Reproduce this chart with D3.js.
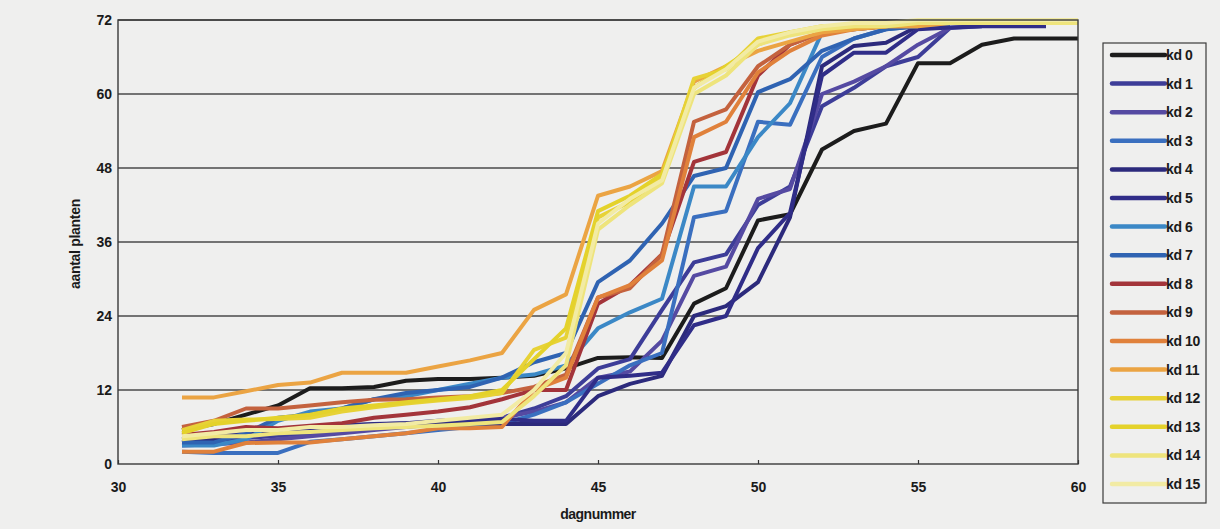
<!DOCTYPE html>
<html>
<head>
<meta charset="utf-8">
<script src="https://cdn.jsdelivr.net/npm/d3@7"></script>
<style>
  html, body { margin: 0; padding: 0; background: #efefee; }
  svg text { font-family: "Liberation Sans", Arial, sans-serif; font-weight: bold; fill: #1a1a1a; }
</style>
</head>
<body>
<div id="chart"></div>
<script>
// days 32..60, one value per day, null = no measurement
const firstDay = 32;
const xTicks = [30, 35, 40, 45, 50, 55, 60];
const yTicks = [0, 12, 24, 36, 48, 60, 72];
const seriesNames = ['kd 0', 'kd 1', 'kd 2', 'kd 3', 'kd 4', 'kd 5', 'kd 6', 'kd 7',
  'kd 8', 'kd 9', 'kd 10', 'kd 11', 'kd 12', 'kd 13', 'kd 14', 'kd 15'];
const seriesColors = ['#1c1c1c', '#3d3d98', '#554aa2', '#3a6fbf', '#2c2a7c', '#302d88', '#3b88c6', '#2f63b2',
  '#a3343a', '#c4623e', '#e0813b', '#eba443', '#e7d236', '#e4d22b', '#eee47c', '#f2eba4'];

const kd0 = [5.5, 6.5, 8, 9.5, 12.3, 12.3, 12.5, 13.5, 13.8, 13.8, 14, 14.3, 15.5, 17.2, 17.3, 17.2, 26, 28.5, 39.5, 40.5, 51, 54, 55.2, 65, 65, 68, 69, 69, 69];
const kd1 = [3.5, 3.8, 4.2, 4.6, 5, 5.5, 6, 6.3, 6.6, 7, 7.5, 9, 11, 15.5, 17, 25, 32.7, 34, 42, 45, 58, 61, 64.5, 66, 70.7, 71];
const kd2 = [3, 3.2, 3.5, 4, 4.5, 5, 5.5, 6, 6.5, 7, 7.5, 8.5, 10, 14, 15, 20, 30.5, 32, 43, 44.6, 60, 62, 64.5, 68, 70.7];
const kd3 = [2, 1.8, 1.8, 1.8, 3.6, 4, 4.5, 5, 5.5, 6, 6.5, 8, 10, 13, 16, 18, 40, 41, 55.5, 55, 66, 69, 70.5, 71, 71];
const kd4 = [3.5, 4, 5, 5.5, 6, 6.3, 6.5, 6.6, 6.6, 6.6, 6.5, 6.5, 6.5, 11, 13, 14.3, 24, 25.6, 29.5, 40, 64.5, 67.8, 68.3, 71];
const kd5 = [4, 4.5, 5, 5.5, 5.8, 6.2, 6.4, 6.6, 7, 7.2, 7.3, 7, 7, 14, 14.3, 14.8, 22.5, 24, 35, 40.7, 63, 66.7, 66.7, 70.5, 70.8, 71, 71, 71];
const kd6 = [3, 3, 4, 7, 8.5, 9, 10.5, 11, 12, 13, 14, 14.5, 16, 22, 24.6, 26.8, 45, 45, 53, 58.5, 70, 70.5, 71, 71];
const kd7 = [3.5, 3.5, 5, 7.5, 8, 9, 10.5, 11.5, 12, 12.5, 14, 16.5, 18, 29.5, 33, 39, 46.7, 48, 60.3, 62.4, 67, 69, 70.5, 71];
const kd8 = [4.7, 5.2, 6, 5.8, 6.2, 6.6, 7.5, 8, 8.5, 9.2, 10.5, 12, 12, 26, 29, 34, 49, 50.6, 63, 68, 70, 70.5, 71];
const kd9 = [6, 7, 9, 9, 9.5, 10, 10.4, 10.5, 10.8, 11, 11.5, 12.5, 14.5, 27, 28.5, 34, 55.5, 57.5, 64.5, 68, 70, 71, 71];
const kd10 = [2, 2, 3.4, 3.5, 3.5, 4, 4.5, 5, 5.8, 5.8, 6, 12, 14, 27, 29, 33, 53, 55.5, 63.5, 67, 69.5, 70.5, 71, 71];
const kd11 = [10.8, 10.8, 11.8, 12.8, 13.2, 14.8, 14.8, 14.8, 15.8, 16.8, 18, 25, 27.5, 43.5, 45, 47.5, 62, 64.5, 67, 68.5, 70, 70.5, 71, 71, 71.5, 71.5];
const kd12 = [5.5, 7, 7.2, 7.3, 7.5, 8.5, 9.2, 9.8, 10.3, 10.7, 11.5, 18.5, 20.5, 40, 42.5, 46.5, 62.5, 64, 69, 70, 71, 71, 71.5, 71.5, 71.5, 71.5, 71.5];
const kd13 = [5, 6.5, 7, 7.5, 8, 9, 9.5, 10, 10.5, 11, 12, 17, 22, 41, 43.5, 47, 61, 64.5, 68, 70, 70.5, 71, 71, 71.5, 71.5, 71.5];
const kd14 = [4, 4.5, 4.5, 5, 5.2, 5.5, 5.8, 6, 6.2, 6.5, 6.8, 11, 16, 38, 42, 45.5, 60, 63, 68, 69.5, 70.5, 71, 71, 71.5, 71.5, 71.5, 71.5, 71.5, 71.5];
const kd15 = [4.5, 5, 5.5, 5.5, 6, 6, 6.3, 6.5, 7, 7.5, 8, 12, 18, 39, 43, 46, 61, 64, 68.5, 70, 71, 71.5, 71.5, 72, 72, 72, 72, 72, 72];

const seriesValues = [kd0, kd1, kd2, kd3, kd4, kd5, kd6, kd7, kd8, kd9, kd10, kd11, kd12, kd13, kd14, kd15];

const width = 1220, height = 529;
const margin = { left: 118, right: 142, top: 20, bottom: 65 };

const svg = d3.select('#chart').append('svg')
  .attr('width', width)
  .attr('height', height);

const x = d3.scaleLinear().domain([30, 60]).range([margin.left, width - margin.right]);
const y = d3.scaleLinear().domain([0, 72]).range([height - margin.bottom, margin.top]);

// horizontal grid
svg.append('g')
  .selectAll('line')
  .data(yTicks.filter(d => d > 0))
  .join('line')
    .attr('x1', x(30)).attr('x2', x(60))
    .attr('y1', d => y(d)).attr('y2', d => y(d))
    .attr('stroke', '#4a4a4a')
    .attr('stroke-width', 1.3);

// y axis labels
svg.append('g')
  .selectAll('text')
  .data(yTicks)
  .join('text')
    .attr('x', x(30) - 6)
    .attr('y', d => y(d))
    .attr('dy', '0.35em')
    .attr('text-anchor', 'end')
    .attr('font-size', 14)
    .text(d => d);

// x axis + ticks
const xAxis = svg.append('g')
  .attr('transform', `translate(0,${y(0)})`)
  .call(d3.axisBottom(x).tickValues(xTicks).tickSize(-4).tickPadding(18).tickFormat(d3.format('d')));
xAxis.select('.domain').remove();
xAxis.selectAll('.tick line').attr('stroke', '#333').attr('stroke-width', 1.2);
xAxis.selectAll('.tick text')
  .attr('font-size', 14)
  .attr('font-family', '"Liberation Sans", Arial, sans-serif')
  .attr('font-weight', 'bold')
  .attr('fill', '#1a1a1a');

const line = d3.line()
  .defined(d => d != null)
  .x((d, i) => x(firstDay + i))
  .y(d => y(d));

svg.append('g')
  .selectAll('path')
  .data(seriesValues)
  .join('path')
    .attr('fill', 'none')
    .attr('stroke', (d, i) => seriesColors[i])
    .attr('stroke-width', 4)
    .attr('stroke-linejoin', 'round')
    .attr('d', line);

// plot frame
svg.append('rect')
  .attr('x', x(30))
  .attr('y', y(72))
  .attr('width', x(60) - x(30))
  .attr('height', y(0) - y(72))
  .attr('fill', 'none')
  .attr('stroke', '#3a3a3a')
  .attr('stroke-width', 1.4);

svg.append('text')
  .attr('x', (x(30) + x(60)) / 2)
  .attr('y', 519)
  .attr('text-anchor', 'middle')
  .attr('font-size', 14)
  .attr('letter-spacing', -0.5)
  .text('dagnummer');

svg.append('text')
  .attr('transform', `translate(80,${(y(0) + y(72)) / 2 + 2}) rotate(-90)`)
  .attr('text-anchor', 'middle')
  .attr('font-size', 14)
  .attr('letter-spacing', -0.3)
  .text('aantal planten');

// legend
const legend = svg.append('g');
legend.append('rect')
  .attr('x', 1103)
  .attr('y', 43)
  .attr('width', 103)
  .attr('height', 460)
  .attr('fill', 'none')
  .attr('stroke', '#3a3a3a')
  .attr('stroke-width', 1.2);

const items = legend.selectAll('g.item')
  .data(seriesNames)
  .join('g')
    .attr('class', 'item')
    .attr('transform', (d, i) => `translate(0,${55 + i * 28.6})`);

items.append('line')
  .attr('x1', 1112).attr('x2', 1165)
  .attr('stroke', (d, i) => seriesColors[i])
  .attr('stroke-width', 4.5)
  .attr('stroke-linecap', 'round');

items.append('text')
  .attr('x', 1166)
  .attr('dy', '0.35em')
  .attr('font-size', 14)
  .attr('letter-spacing', -0.4)
  .text(d => d);
</script>
</body>
</html>
